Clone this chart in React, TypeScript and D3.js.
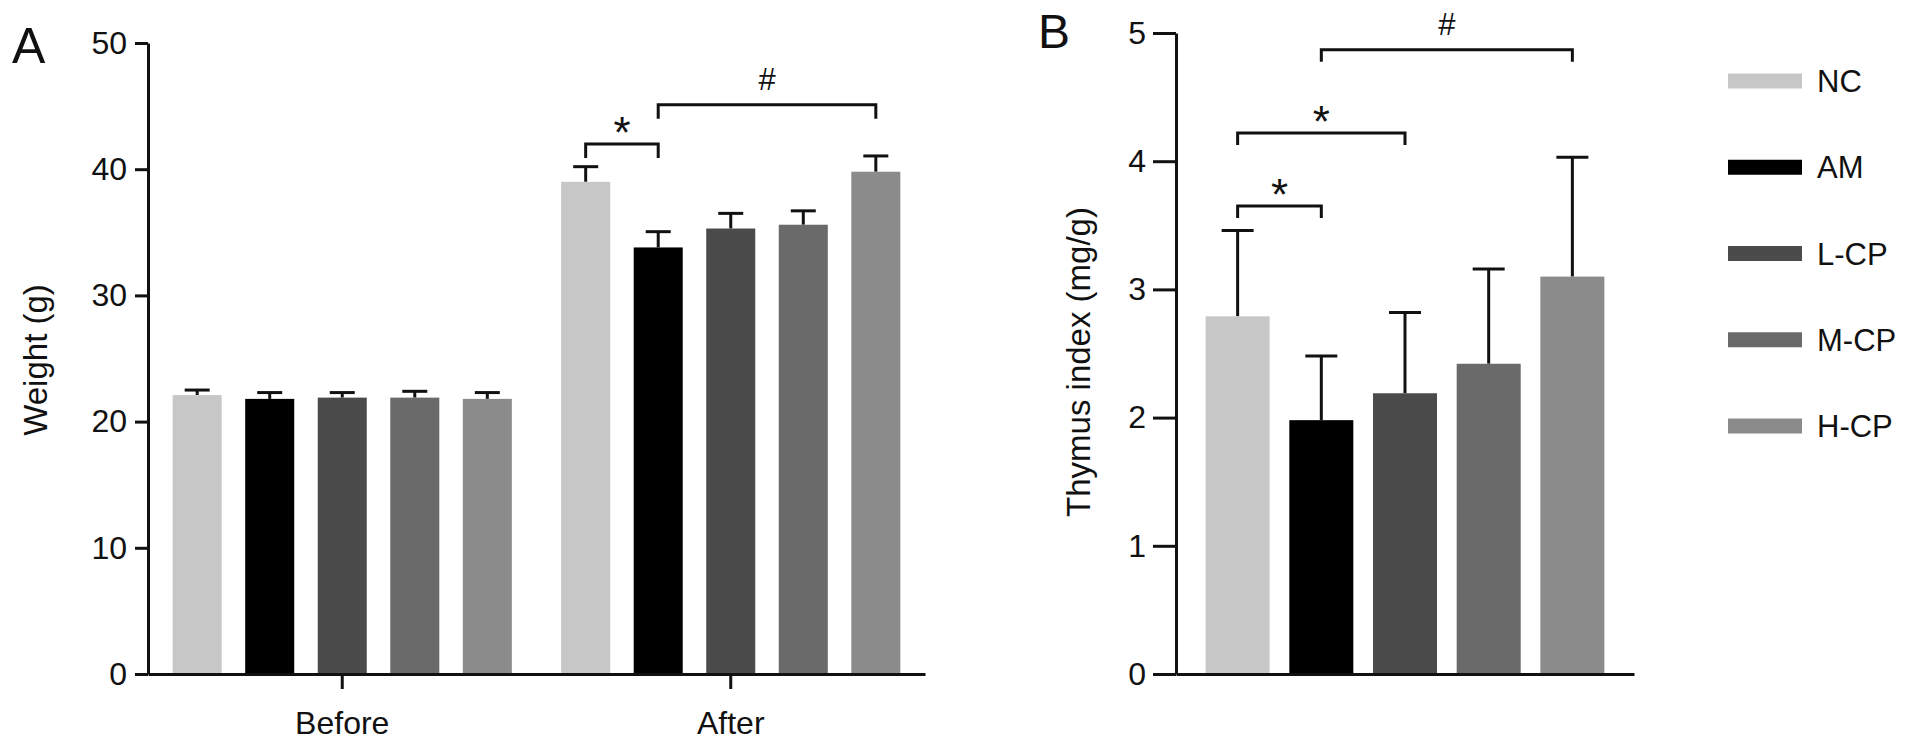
import React, { useEffect, useRef } from 'react';
import * as d3 from 'd3';

const treatments = ['NC', 'AM', 'L-CP', 'M-CP', 'H-CP'];
const fills = ['#c7c7c7', '#000000', '#4b4b4b', '#6a6a6a', '#8b8b8b'];
const phases = ['Before', 'After'];

const weightBefore = [22.1, 21.8, 21.9, 21.9, 21.8];
const weightBeforeErr = [0.4, 0.5, 0.4, 0.5, 0.5];
const weightAfter = [39.0, 33.8, 35.3, 35.6, 39.8];
const weightAfterErr = [1.2, 1.25, 1.2, 1.1, 1.25];
const weightTicks = [0, 10, 20, 30, 40, 50];

const thymus = [2.79, 1.98, 2.19, 2.42, 3.10];
const thymusErr = [0.67, 0.5, 0.63, 0.74, 0.93];
const thymusTicks = [0, 1, 2, 3, 4, 5];

// significance brackets (level in data units)
const weightMarks = [
	{ from: 'NC', to: 'AM', level: 42.0, label: '*' },
	{ from: 'AM', to: 'H-CP', level: 45.1, label: '#' },
];
const thymusMarks = [
	{ from: 'NC', to: 'AM', level: 3.65, label: '*' },
	{ from: 'NC', to: 'L-CP', level: 4.22, label: '*' },
	{ from: 'AM', to: 'H-CP', level: 4.87, label: '#' },
];

const FONT = '"Liberation Sans", Arial, Helvetica, sans-serif';
const INK = '#111';

function Figure(): JSX.Element {
	const ref = useRef<SVGSVGElement | null>(null);
	useEffect(() => {
		if (!ref.current) return;
		const svg = d3.select(ref.current);
		svg.selectAll('*').remove();
		const color = d3.scaleOrdinal<string, string>(treatments, fills);

		const styleAxis = (g: any, fs: number) => {
			g.selectAll('path,line').attr('stroke', INK).attr('stroke-width', 3);
			g.selectAll('text').attr('fill', INK).style('font-size', fs + 'px').style('font-family', FONT);
		};

		const drawErr = (g: any, cx: number, y0: number, y1: number, cap: number) => {
			g.append('line').attr('x1', cx).attr('x2', cx).attr('y1', y0).attr('y2', y1).attr('stroke', INK).attr('stroke-width', 3);
			g.append('line').attr('x1', cx - cap / 2).attr('x2', cx + cap / 2).attr('y1', y1).attr('y2', y1).attr('stroke', INK).attr('stroke-width', 3);
		};

		const drawMark = (g: any, x1: number, x2: number, y: number, leg: number, label: string) => {
			g.append('path').attr('d', `M${x1},${y + leg}V${y}H${x2}V${y + leg}`)
				.attr('fill', 'none').attr('stroke', INK).attr('stroke-width', 3);
			const star = label === '*';
			g.append('text').attr('x', (x1 + x2) / 2).attr('y', star ? y + 4 : y - 15)
				.attr('text-anchor', 'middle').attr('fill', INK)
				.style('font-family', FONT).style('font-size', star ? '44px' : '31px').text(label);
		};

		// ---------- Panel A ----------
		const a = svg.append('g');
		const xA = d3.scaleBand<string>(phases, [148, 925]);
		const xInner = d3.scaleBand<string>(treatments, [0, xA.bandwidth()]).paddingInner(0.324).paddingOuter(0.34);
		const yA = d3.scaleLinear([0, 50], [674, 43]);

		const seriesA = [
			{ phase: 'Before', values: weightBefore, errs: weightBeforeErr },
			{ phase: 'After', values: weightAfter, errs: weightAfterErr },
		];
		seriesA.forEach(s => {
			treatments.forEach((t, i) => {
				const x = (xA(s.phase) || 0) + (xInner(t) || 0);
				const cx = x + xInner.bandwidth() / 2;
				drawErr(a, cx, yA(s.values[i]), yA(s.values[i] + s.errs[i]), 25);
				a.append('rect').attr('x', x).attr('y', yA(s.values[i])).attr('width', xInner.bandwidth())
					.attr('height', yA(0) - yA(s.values[i])).attr('fill', color(t));
			});
		});

		const axA = a.append('g').attr('transform', 'translate(148,0)')
			.call(d3.axisLeft(yA).tickValues(weightTicks).tickFormat(d3.format('d')).tickSize(13).tickPadding(8).tickSizeOuter(0));
		styleAxis(axA, 32);
		const axAx = a.append('g').attr('transform', `translate(0,${yA(0)})`)
			.call(d3.axisBottom(xA).tickSize(15).tickPadding(22).tickSizeOuter(0));
		styleAxis(axAx, 32);

		const afterX = (t: string) => (xA('After') || 0) + (xInner(t) || 0) + xInner.bandwidth() / 2;
		weightMarks.forEach(m => drawMark(a, afterX(m.from), afterX(m.to), yA(m.level), 14, m.label));

		a.append('text').attr('transform', `translate(47,360) rotate(-90)`).attr('text-anchor', 'middle')
			.attr('fill', INK).style('font-family', FONT).style('font-size', '33px').text('Weight (g)');
		a.append('text').attr('x', 12).attr('y', 63).attr('fill', INK)
			.style('font-family', FONT).style('font-size', '50px').text('A');

		// ---------- Panel B ----------
		const b = svg.append('g');
		const xB = d3.scaleBand<string>(treatments, [1176, 1634]).paddingInner(0.235).paddingOuter(0.354);
		const yB = d3.scaleLinear([0, 5], [674, 33]);

		treatments.forEach((t, i) => {
			const x = xB(t) || 0;
			const cx = x + xB.bandwidth() / 2;
			drawErr(b, cx, yB(thymus[i]), yB(thymus[i] + thymusErr[i]), 32);
			b.append('rect').attr('x', x).attr('y', yB(thymus[i])).attr('width', xB.bandwidth())
				.attr('height', yB(0) - yB(thymus[i])).attr('fill', color(t));
		});

		const axB = b.append('g').attr('transform', 'translate(1176,0)')
			.call(d3.axisLeft(yB).tickValues(thymusTicks).tickFormat(d3.format('d')).tickSize(23).tickPadding(7).tickSizeOuter(0));
		styleAxis(axB, 32);
		const axBx = b.append('g').attr('transform', `translate(0,${yB(0)})`)
			.call(d3.axisBottom(xB).tickValues([]).tickSizeOuter(0));
		styleAxis(axBx, 32);

		const bx = (t: string) => (xB(t) || 0) + xB.bandwidth() / 2;
		thymusMarks.forEach(m => drawMark(b, bx(m.from), bx(m.to), yB(m.level), 12, m.label));

		b.append('text').attr('transform', `translate(1090,362) rotate(-90)`).attr('text-anchor', 'middle')
			.attr('fill', INK).style('font-family', FONT).style('font-size', '33px').text('Thymus index (mg/g)');
		b.append('text').attr('x', 1038).attr('y', 48).attr('fill', INK)
			.style('font-family', FONT).style('font-size', '48px').text('B');

		// ---------- Legend ----------
		const yL = d3.scalePoint<string>(treatments, [81, 426]);
		const lg = svg.append('g');
		treatments.forEach(t => {
			const y = yL(t) || 0;
			lg.append('rect').attr('x', 1728).attr('y', y - 7.5).attr('width', 74).attr('height', 15).attr('fill', color(t));
			lg.append('text').attr('x', 1817).attr('y', y).attr('dy', '0.36em').attr('fill', INK)
				.style('font-family', FONT).style('font-size', '31px').text(t);
		});
	}, []);
	return <svg ref={ref} width={1913} height={745} style={{ position: 'absolute', left: 0, top: 0, background: '#fff' }} />;
}

export default function App(): JSX.Element {
	return <Figure />;
}
